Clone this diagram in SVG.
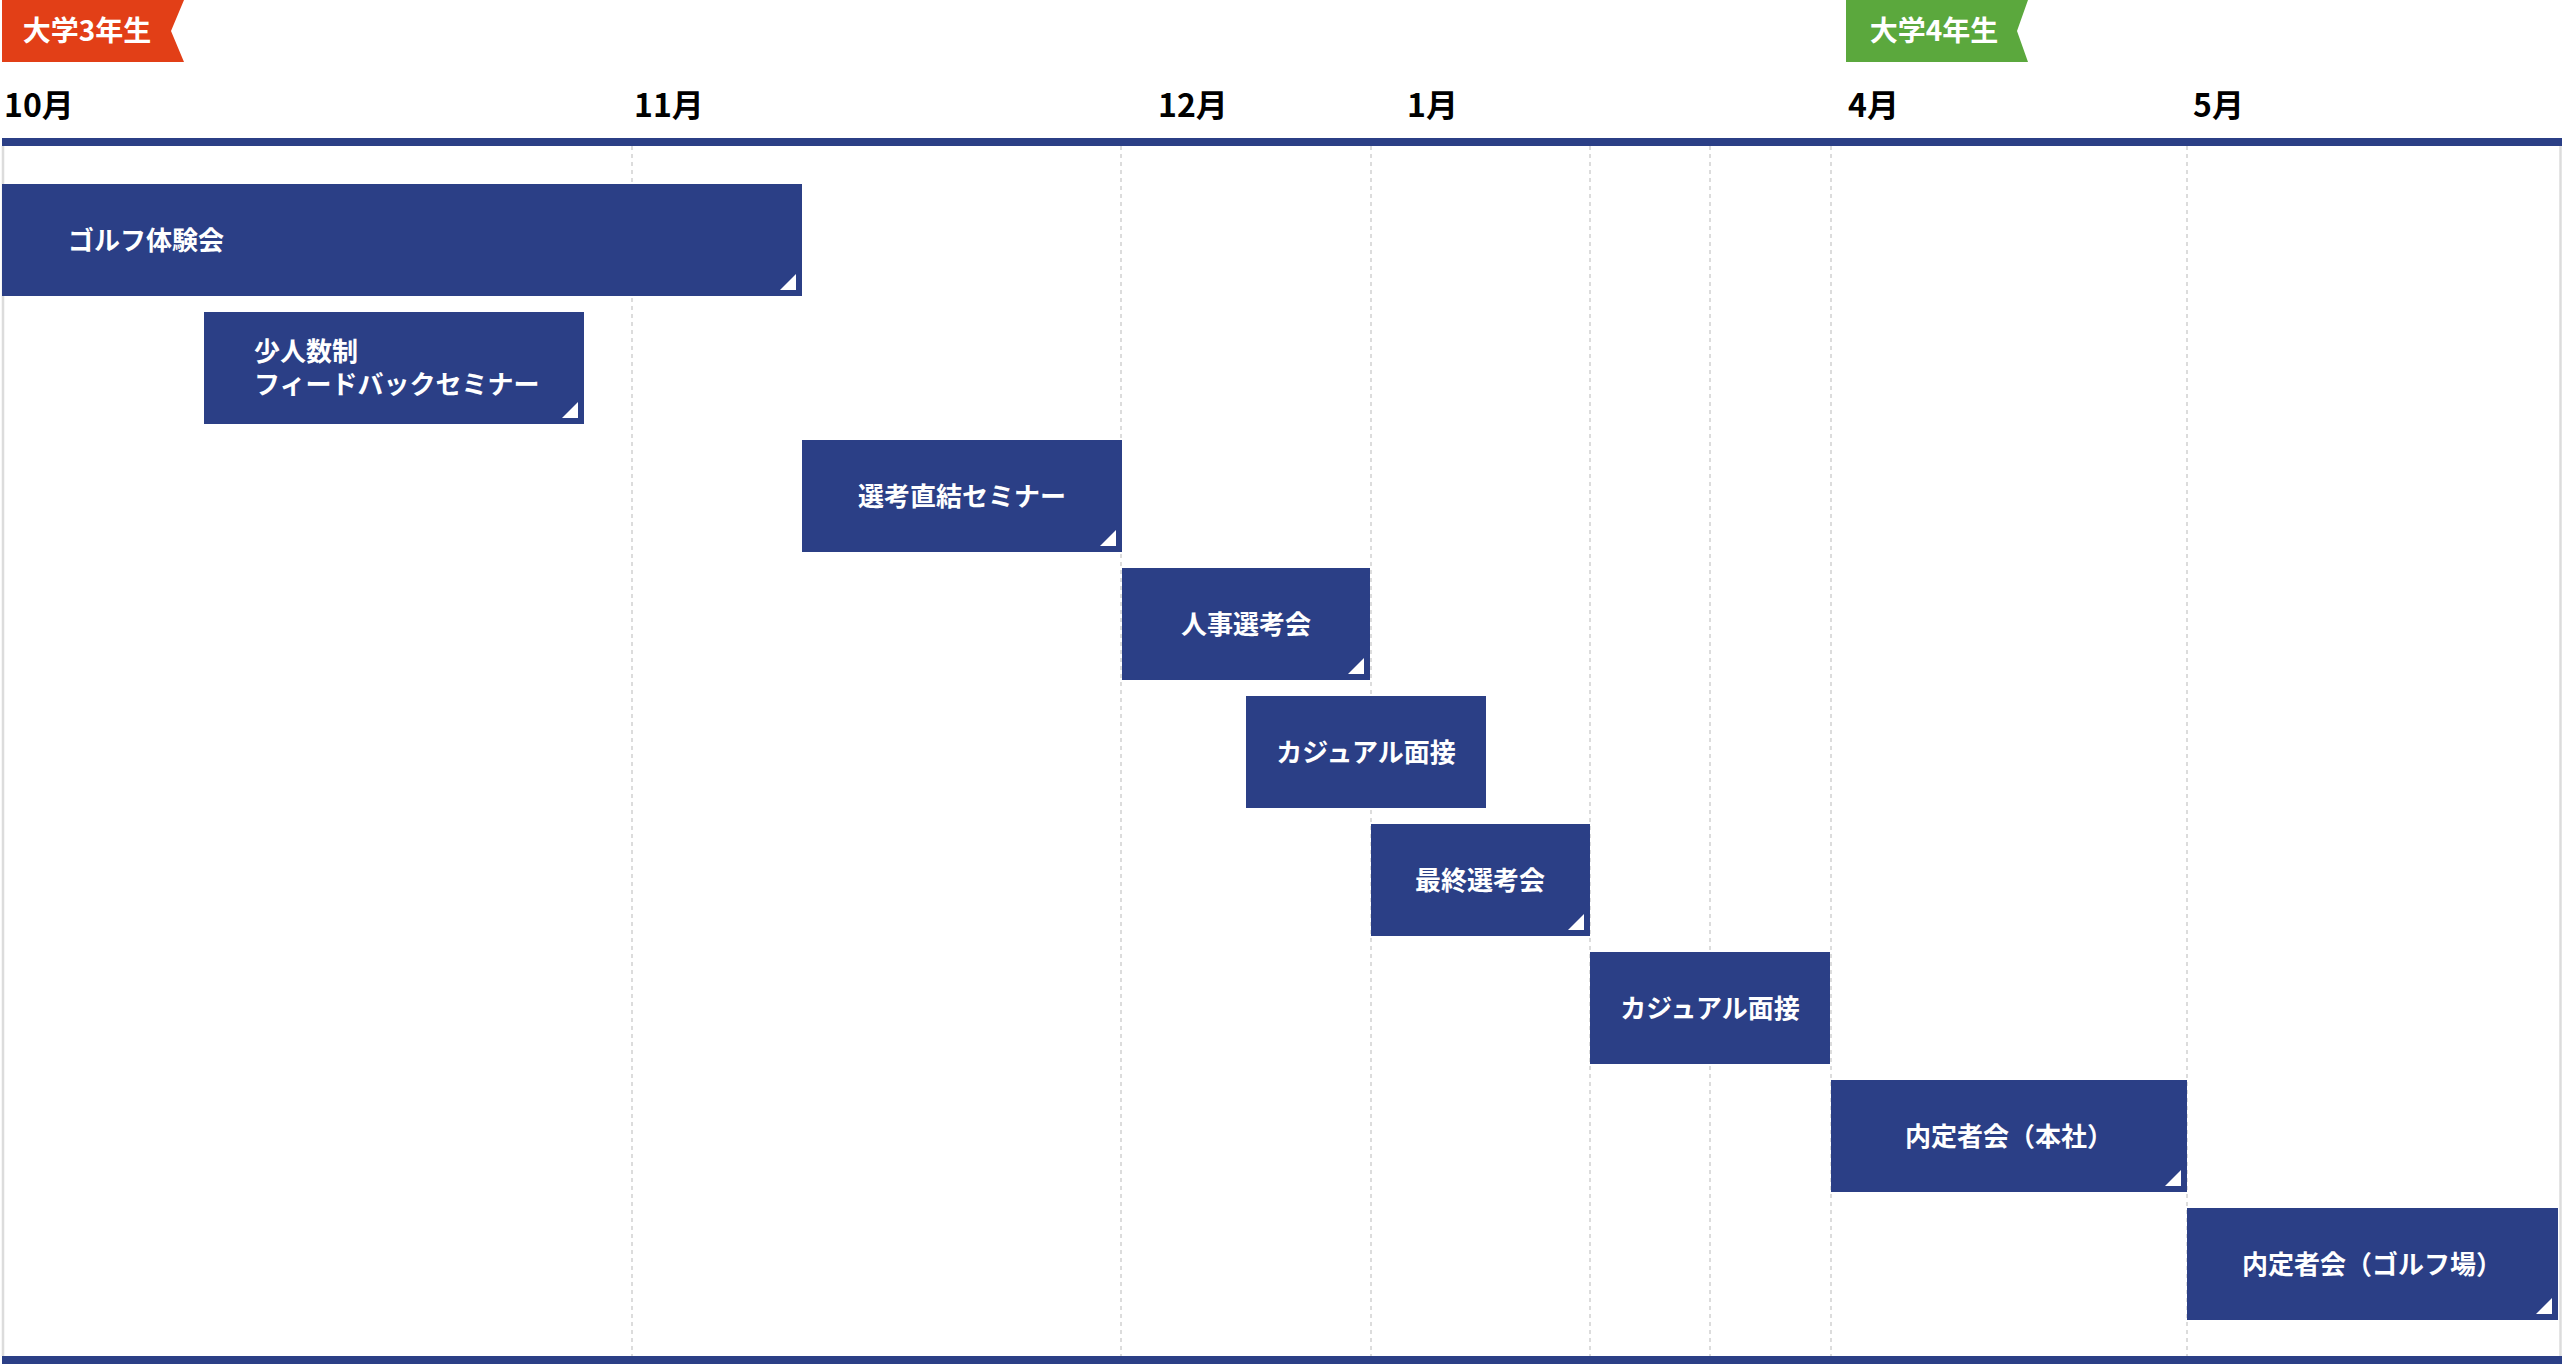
<svg xmlns="http://www.w3.org/2000/svg" width="2562" height="1364" viewBox="0 0 2562 1364">
<style>
text{font-family:"Noto Sans CJK JP","Noto Sans",sans-serif;font-weight:700}
.bar{fill:#2b3f86}
.lbl{fill:#fff;font-size:26px;text-anchor:middle}
.lbll{fill:#fff;font-size:26px}
.mon{fill:#000;font-size:32px}
.tag{fill:#fff;font-size:28px;text-anchor:middle}
.grid{stroke:#dcdcdc;stroke-width:2;stroke-dasharray:4 4;fill:none}
.border{stroke:#dcdcdc;stroke-width:2.5;fill:none}
.tri{fill:#fff}
</style>
<rect width="2562" height="1364" fill="#fff"/>
<g id="grid">
<line class="border" x1="3" y1="146" x2="3" y2="1356"/>
<line class="border" x1="2560.5" y1="146" x2="2560.5" y2="1356"/>
<line class="grid" x1="632" y1="146" x2="632" y2="1356"/>
<line class="grid" x1="1121" y1="146" x2="1121" y2="1356"/>
<line class="grid" x1="1371" y1="146" x2="1371" y2="1356"/>
<line class="grid" x1="1590" y1="146" x2="1590" y2="1356"/>
<line class="grid" x1="1710" y1="146" x2="1710" y2="1356"/>
<line class="grid" x1="1831" y1="146" x2="1831" y2="1356"/>
<line class="grid" x1="2187" y1="146" x2="2187" y2="1356"/>
<rect class="bar" x="2" y="138" width="2560" height="8"/>
<rect class="bar" x="2" y="1356" width="2560" height="8"/>
</g>
<g id="tag-3rd">
<polygon points="2,0 184,0 171,31 184,62 2,62" fill="#e23f17"/>
<text class="tag" x="87" y="41">大学3年生</text>
</g>
<g id="tag-4th">
<polygon points="1846,0 2028,0 2017,31 2028,62 1846,62" fill="#5ba83d"/>
<text class="tag" x="1934" y="41">大学4年生</text>
</g>
<g id="months">
<text class="mon" x="4" y="117">10月</text>
<text class="mon" x="634" y="117">11月</text>
<text class="mon" x="1158" y="117">12月</text>
<text class="mon" x="1407" y="117">1月</text>
<text class="mon" x="1848" y="117">4月</text>
<text class="mon" x="2193" y="117">5月</text>
</g>
<g id="bar1">
<rect class="bar" x="2" y="184" width="800" height="112"/>
<text class="lbll" x="68" y="250">ゴルフ体験会</text>
<polygon class="tri" points="796,274 796,290 780,290"/>
</g>
<g id="bar2">
<rect class="bar" x="204" y="312" width="380" height="112"/>
<text class="lbll" x="254" y="361">少人数制</text>
<text class="lbll" x="254" y="394">フィードバックセミナー</text>
<polygon class="tri" points="578,402 578,418 562,418"/>
</g>
<g id="bar3">
<rect class="bar" x="802" y="440" width="320" height="112"/>
<text class="lbl" x="962" y="506">選考直結セミナー</text>
<polygon class="tri" points="1116,530 1116,546 1100,546"/>
</g>
<g id="bar4">
<rect class="bar" x="1122" y="568" width="248" height="112"/>
<text class="lbl" x="1246" y="634">人事選考会</text>
<polygon class="tri" points="1364,658 1364,674 1348,674"/>
</g>
<g id="bar5">
<rect class="bar" x="1246" y="696" width="240" height="112"/>
<text class="lbl" x="1366" y="762">カジュアル面接</text>
</g>
<g id="bar6">
<rect class="bar" x="1371" y="824" width="219" height="112"/>
<text class="lbl" x="1480" y="890">最終選考会</text>
<polygon class="tri" points="1584,914 1584,930 1568,930"/>
</g>
<g id="bar7">
<rect class="bar" x="1590" y="952" width="240" height="112"/>
<text class="lbl" x="1710" y="1018">カジュアル面接</text>
</g>
<g id="bar8">
<rect class="bar" x="1831" y="1080" width="356" height="112"/>
<text class="lbl" x="2009" y="1146">内定者会（本社）</text>
<polygon class="tri" points="2181,1170 2181,1186 2165,1186"/>
</g>
<g id="bar9">
<rect class="bar" x="2187" y="1208" width="371" height="112"/>
<text class="lbl" x="2372" y="1274">内定者会（ゴルフ場）</text>
<polygon class="tri" points="2552,1298 2552,1314 2536,1314"/>
</g>
</svg>
